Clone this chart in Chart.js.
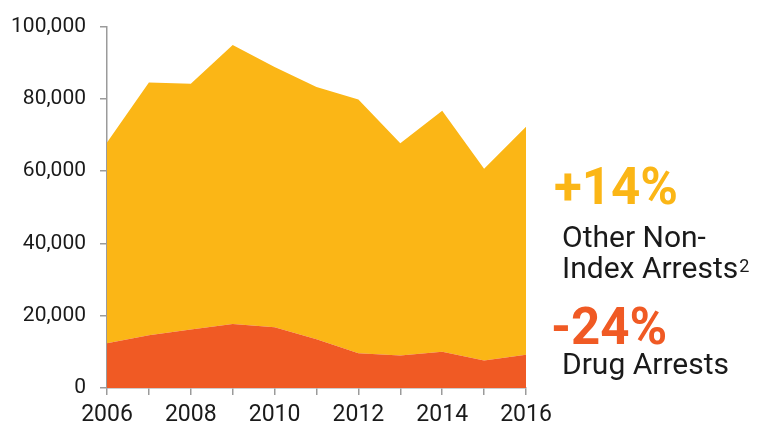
<!DOCTYPE html>
<html lang="en">
<head>
  <meta charset="UTF-8">
  <title>Drug vs Other Non-Index Arrests</title>
  <script src="https://cdn.jsdelivr.net/npm/chart.js"></script>
  <style>
    html, body { margin: 0; padding: 0; background: #fff; }
    #wrap { width: 767px; height: 426px; }
  </style>
</head>
<body>
  <div id="wrap"><canvas id="arrestsChart" width="767" height="426"></canvas></div>

  <script>
    // Data
    const years = ['2006', '2007', '2008', '2009', '2010', '2011', '2012', '2013', '2014', '2015', '2016'];
    const drugArrests = [12400, 14600, 16200, 17700, 16800, 13500, 9600, 9000, 10000, 7600, 9200];
    const otherNonIndex = [55500, 69900, 68000, 77200, 72000, 69800, 70200, 58700, 66700, 53100, 63100];
    const yTicks = [0, 20000, 40000, 60000, 80000, 100000];

    const YELLOW = '#fbb616';
    const ORANGE = '#f05a24';
    const AXIS = '#9b9b9b';
    const TEXT = '#1a1a1a';

    // right-hand annotations
    const labelsPlugin = {
      id: 'sideLabels',
      afterDraw(chart) {
        const ctx = chart.ctx;
        ctx.save();
        ctx.textAlign = 'left';
        ctx.textBaseline = 'alphabetic';

        ctx.fillStyle = YELLOW;
        ctx.font = 'bold 51px Roboto';
        ctx.fillText('+14%', 554, 204);

        ctx.fillStyle = TEXT;
        ctx.font = '30px Roboto';
        ctx.fillText('Other Non-', 562, 247);
        ctx.fillText('Index Arrests', 562, 278);
        let w = ctx.measureText('Index Arrests').width;
        ctx.font = '18px Roboto';
        ctx.fillText('2', 562 + w + 1, 272);

        ctx.fillStyle = ORANGE;
        ctx.font = 'bold 51px Roboto';
        ctx.fillText('-24%', 551, 344);

        ctx.fillStyle = TEXT;
        ctx.font = '30px Roboto';
        ctx.fillText('Drug Arrests', 562, 374);
        ctx.restore();
      }
    };

    new Chart(document.getElementById('arrestsChart'), {
      type: 'line',
      data: {
        labels: years,
        datasets: [
          {
            label: 'Drug Arrests',
            data: drugArrests,
            backgroundColor: ORANGE,
            borderWidth: 0,
            pointRadius: 0,
            fill: 'origin'
          },
          {
            label: 'Other Non-Index Arrests',
            data: otherNonIndex,
            backgroundColor: YELLOW,
            borderWidth: 0,
            pointRadius: 0,
            fill: '-1'
          }
        ]
      },
      options: {
        responsive: false,
        animation: false,
        layout: { padding: { top: 24, right: 241, bottom: 0, left: 0 } },
        plugins: {
          legend: { display: false },
          tooltip: { enabled: false }
        },
        scales: {
          x: {
            offset: false,
            grid: { drawOnChartArea: false, color: AXIS, tickLength: 7, lineWidth: 1.5 },
            border: { color: AXIS, width: 1.5 },
            ticks: {
              autoSkip: false,
              maxRotation: 0,
              padding: 6,
              color: TEXT,
              font: { family: 'Roboto', size: 23 },
              callback: (v, i) => (i % 2 === 0 ? years[i] : '')
            },
            afterFit: s => { s.height = 38; }
          },
          y: {
            stacked: true,
            min: yTicks[0],
            max: yTicks[yTicks.length - 1],
            afterBuildTicks: s => { s.ticks = yTicks.map(v => ({ value: v })); },
            grid: { drawOnChartArea: false, color: AXIS, tickLength: 7, lineWidth: 1.5 },
            border: { color: AXIS, width: 1.5 },
            ticks: {
              padding: 14,
              color: TEXT,
              font: { family: 'Roboto', size: 21 },
              callback: v => v.toLocaleString('en-US')
            },
            afterFit: s => { s.width = 107; }
          }
        }
      },
      plugins: [labelsPlugin]
    });
  </script>
</body>
</html>
